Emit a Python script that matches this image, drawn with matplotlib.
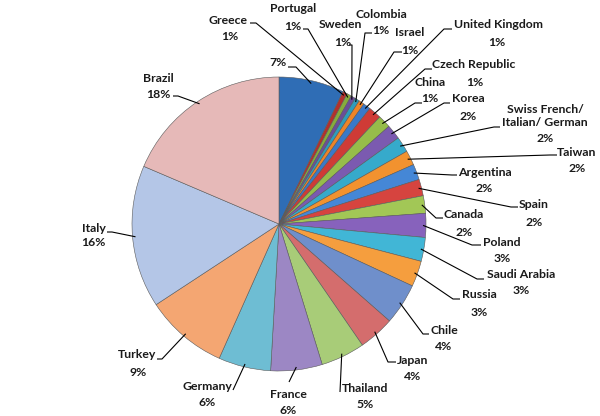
import numpy as np
import matplotlib

matplotlib.use("Agg")

import matplotlib.pyplot as plt


# slice order runs clockwise from 12 o'clock
countries = [
    "", "Greece", "Portugal", "Sweden", "Colombia", "Israel",
    "United Kingdom", "Czech Republic", "China", "Korea",
    "Swiss French/\nItalian/ German", "Taiwan", "Argentina", "Spain",
    "Canada", "Poland", "Saudi Arabia", "Russia", "Chile", "Japan",
    "Thailand", "France", "Germany", "Turkey", "Italy", "Brazil",
]
shares = [
    7.1, 0.5, 0.5, 0.5, 0.5, 0.6,
    0.8, 1.4, 1.4, 1.6,
    1.7, 1.6, 1.7, 1.8,
    1.9, 2.6, 2.6, 2.8, 4.5, 3.9,
    4.8, 5.6, 5.7, 9.0, 15.5, 18.4,
]
pct_labels = [
    "7%", "1%", "1%", "1%", "1%", "1%",
    "1%", "1%", "1%", "2%",
    "2%", "2%", "2%", "2%",
    "2%", "3%", "3%", "3%", "4%", "4%",
    "5%", "6%", "6%", "9%", "16%", "18%",
]

colors = [
    "#2F6DB5", "#B3312D", "#86AC3C", "#6B4D99", "#2E9DBD", "#EE8428",
    "#3A79C9", "#CF3B36", "#96BD4A", "#7B5AB0", "#36AACB", "#F2922F",
    "#4587D6", "#D6443F", "#A2C756", "#8762BC", "#41B6D6", "#F59E3E",
    "#6F8FCB", "#D46D6D", "#A8CC78", "#9C87C4", "#6EBDD3", "#F4A672",
    "#B4C6E7", "#E6B9B8",
]

# label layout in image pixels (origin top-left)
name_pos = [
    None, (228, 20), (293, 9), (340, 25), (381, 14), (410, 33),
    (498, 25), (474, 65), (430, 82), (468, 99),
    (545, 116), (577, 152), (485, 172), (534, 205),
    (464, 214), (502, 242), (521, 275), (479, 295), (444, 330), (413, 360),
    (365, 389), (288, 395), (207, 387), (137, 355), (94, 228), (158, 78),
]
pct_pos = [
    (278, 63), (230, 37), (293, 26), (343, 42), (381, 31), (410, 50),
    (497, 43), (475, 82), (430, 99), (468, 117),
    (545, 139), (577, 168), (484, 189), (534, 222),
    (464, 232), (502, 258), (521, 291), (479, 312), (444, 346), (413, 376),
    (365, 405), (288, 410), (207, 403), (138, 372), (93, 243), (158, 94),
]
leader_end = [
    (288, 67), (250, 23), (303, 29), (349, 45), (372, 33), (402, 52),
    (452, 29), (432, 69), (422, 103), (450, 103),
    (500, 127), (557, 155), (457, 175), (518, 207),
    (443, 218), (481, 245), (484, 279), (460, 299), (429, 334), (396, 362),
    (340, 392), (289, 382), (233, 390), (157, 359), (107, 232), (173, 96),
]
leader_elbow = [
    (296, 67), (256, 23), (308, 29), (352, 45), (365, 33), (394, 52),
    (444, 29), (425, 69), (415, 103), (444, 103),
    (494, 127), (550, 155), (452, 175), (511, 207),
    (436, 218), (472, 245), (477, 279), (453, 299), (423, 334), (388, 362),
    (340, 392), (289, 382), (233, 390), (162, 359), (112, 232), (178, 96),
]

W, H = 600, 416
CX, CY, R = 279, 224, 147

fig = plt.figure(figsize=(6, 4.16), dpi=100)
ax = fig.add_axes([0, 0, 1, 1])

wedges, _ = ax.pie(
    shares,
    colors=colors,
    startangle=90,
    counterclock=False,
    center=(CX, H - CY),
    radius=R,
    wedgeprops=dict(edgecolor="#5a5a5a", linewidth=0.4),
)
ax.set_xlim(0, W)
ax.set_ylim(0, H)
ax.set_aspect("auto")
ax.axis("off")

font = dict(family=["Lato", "DejaVu Sans"], fontsize=8.8, fontweight="bold",
            color="#1a1a1a", ha="center", va="center")

for i, w in enumerate(wedges):
    mid = np.deg2rad((w.theta1 + w.theta2) / 2)
    rim = (CX + 0.98 * R * np.cos(mid), H - CY + 0.98 * R * np.sin(mid))
    ex, ey = leader_end[i]
    bx, by = leader_elbow[i]
    ax.plot([rim[0], bx, ex], [rim[1], H - by, H - ey],
            color="black", linewidth=0.8, solid_capstyle="butt")

    if name_pos[i] is not None:
        nx, ny = name_pos[i]
        ax.text(nx, H - ny, countries[i], linespacing=1.25, **font)
    px, py = pct_pos[i]
    ax.text(px, H - py, pct_labels[i], **font)

fig.savefig("out.png", dpi=100)
